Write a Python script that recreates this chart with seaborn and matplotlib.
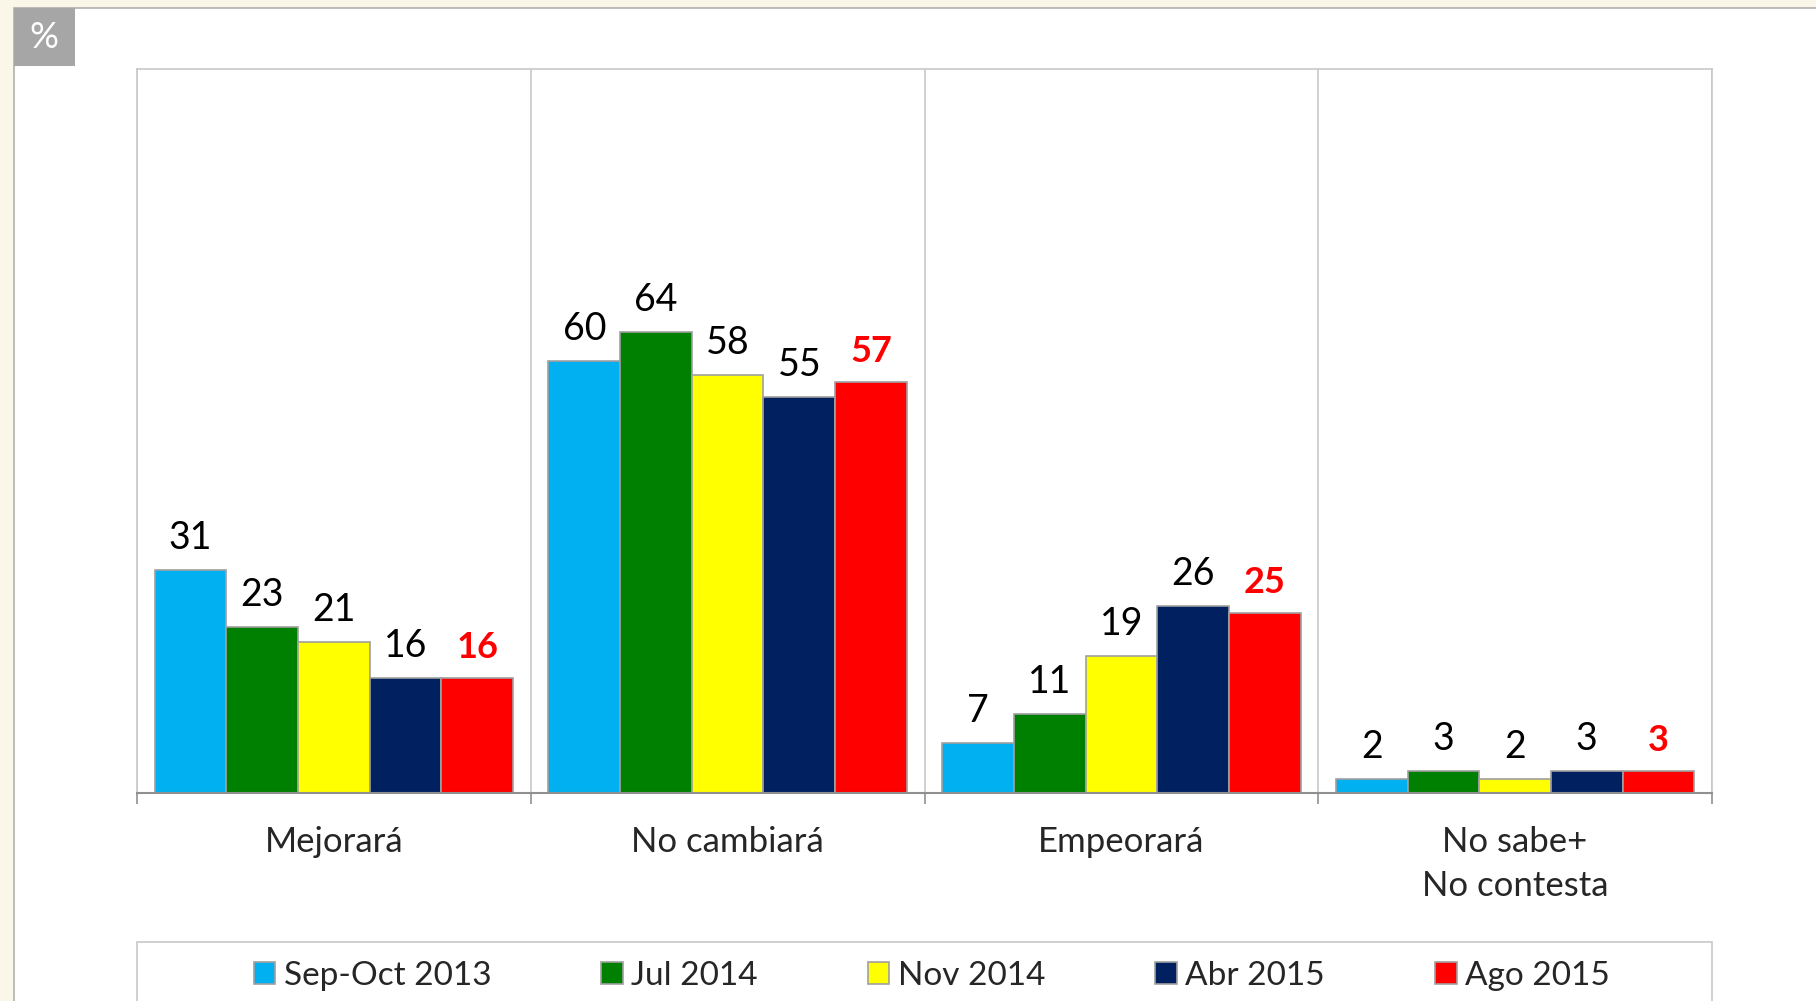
import pandas as pd
import seaborn as sns
import matplotlib.pyplot as plt
from matplotlib.patches import Rectangle

categories = ['Mejorará', 'No cambiará', 'Empeorará', 'No sabe+\nNo contesta']
series = ['Sep-Oct 2013', 'Jul 2014', 'Nov 2014', 'Abr 2015', 'Ago 2015']
sep_oct_2013 = [31, 60, 7, 2]
jul_2014 = [23, 64, 11, 3]
nov_2014 = [21, 58, 19, 2]
abr_2015 = [16, 55, 26, 3]
ago_2015 = [16, 57, 25, 3]
colors = ['#00B0F0', '#008000', '#FFFF00', '#002060', '#FF0000']

values = [sep_oct_2013, jul_2014, nov_2014, abr_2015, ago_2015]
rows = []
for s, vals in zip(series, values):
    for c, v in zip(categories, vals):
        rows.append({'categoria': c, 'periodo': s, 'valor': v})
df = pd.DataFrame(rows)

sns.set_style('white')
plt.rcParams['font.family'] = ['Lato', 'DejaVu Sans']

fig = plt.figure(figsize=(18.16, 10.01), dpi=100)
fig.patch.set_facecolor('#FAF7E9')
# panel blanco
fig.add_artist(Rectangle((14 / 1816, -0.1), 1.0, 1.1 - 8 / 1001, transform=fig.transFigure,
                         facecolor='white', edgecolor='#B0B0B0', lw=1.2, zorder=0))
# caja %
fig.add_artist(Rectangle((14 / 1816, 1 - 66 / 1001), 61 / 1816, 58 / 1001, transform=fig.transFigure,
                         facecolor='#A6A6A6', edgecolor='none', zorder=1))
fig.text(44 / 1816, 1 - 38 / 1001, '%', color='white', fontsize=26, ha='center', va='center')

ax = fig.add_axes([137 / 1816, 1 - 793 / 1001, (1712 - 137) / 1816, (793 - 69) / 1001])
sns.barplot(data=df, x='categoria', y='valor', hue='periodo', order=categories,
            hue_order=series, palette=colors, width=0.91, gap=0, saturation=1,
            edgecolor='#A0A0A0', linewidth=1.2, legend=False, ax=ax)

for i, cont in enumerate(ax.containers):
    last = i == len(ax.containers) - 1
    ax.bar_label(cont, labels=[str(int(v)) for v in values[i]], padding=10,
                 fontsize=27 if not last else 26, color='#FF0000' if last else 'black',
                 fontweight='bold' if last else 'normal')

ax.set_ylim(0, 100.5)
ax.set_xlim(-0.5, 3.5)
ax.set_yticks([])
ax.set_xlabel('')
ax.set_ylabel('')
ax.set_xticks(range(4))
ax.set_xticklabels(categories, fontsize=25, linespacing=1.45)
ax.tick_params(axis='x', which='major', length=0, pad=24)
ax.set_xticks([-0.5, 0.5, 1.5, 2.5, 3.5], minor=True)
ax.tick_params(axis='x', which='minor', bottom=True, length=8, width=1.2, color='#909090',
               direction='out')
ax.grid(True, axis='x', which='minor', color='#C8C8C8', lw=1.2)
ax.set_axisbelow(True)
for side in ['left', 'right', 'top']:
    ax.spines[side].set_color('#C8C8C8')
    ax.spines[side].set_linewidth(1.2)
ax.spines['bottom'].set_color('#909090')
ax.spines['bottom'].set_linewidth(1.5)

# caja de leyenda
fig.add_artist(Rectangle((137 / 1816, -0.05), (1712 - 137) / 1816, 0.05 + (1001 - 942) / 1001,
                         transform=fig.transFigure, facecolor='white', edgecolor='#C8C8C8', lw=1.2))
handles = [Rectangle((0, 0), 1, 1, facecolor=c, edgecolor='#A0A0A0', lw=1.2) for c in colors]
fig.legend(handles, series, loc='center', bbox_to_anchor=(0.513, 1 - 976 / 1001), ncol=5,
           frameon=False, fontsize=24, handlelength=0.65, handleheight=0.65, handletextpad=0.25,
           columnspacing=3.3)

fig.savefig('out.png', dpi=100, facecolor=fig.get_facecolor())
